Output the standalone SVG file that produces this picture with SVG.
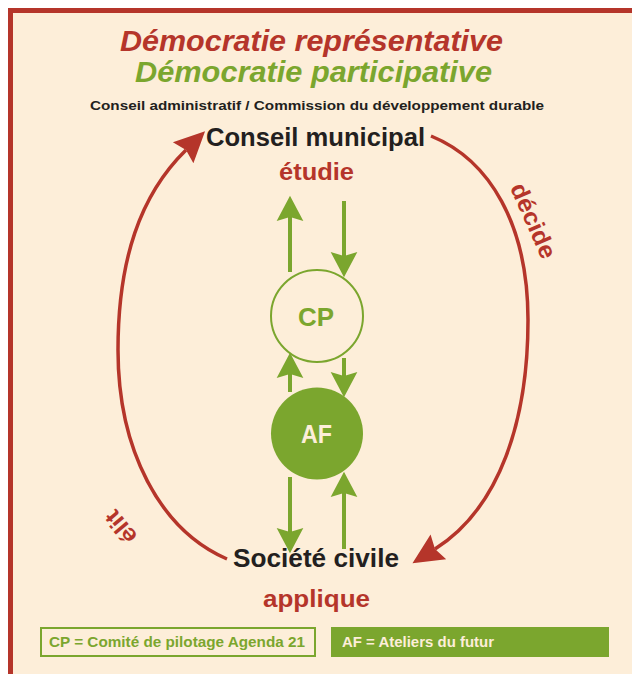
<svg xmlns="http://www.w3.org/2000/svg" width="632" height="674" viewBox="0 0 632 674">
<style>
text{font-family:"Liberation Sans",Arial,Helvetica,sans-serif;font-weight:bold;}
.red{fill:#b5352a;}
.green{fill:#7ba62e;}
.dark{fill:#231f20;}
.cream{fill:#fdeed9;}
.arc{fill:none;stroke:#b5352a;stroke-width:3.5;marker-end:url(#redhead);}
.garrow{fill:none;stroke:#7ba62e;stroke-width:4;marker-end:url(#greenhead);}
</style>
<defs>
<marker id="redhead" markerUnits="userSpaceOnUse" markerWidth="40" markerHeight="40" viewBox="-5 -15 30 30" refX="0" refY="0" orient="auto" overflow="visible">
<path d="M20,0 L-3,-11 L0,0 L-3,11 Z" fill="#b5352a"/>
</marker>
<marker id="greenhead" markerUnits="userSpaceOnUse" markerWidth="40" markerHeight="40" viewBox="-5 -15 30 30" refX="0" refY="0" orient="auto" overflow="visible">
<path d="M16,0 L-3,-10 L0,0 L-3,10 Z" fill="#7ba62e"/>
</marker>
</defs>
<rect x="0" y="0" width="632" height="674" fill="#ffffff"/>
<rect x="8" y="8" width="640" height="680" fill="#b5352a"/>
<rect x="13" y="13" width="640" height="680" fill="#fdeed9"/>

<g id="title">
<text class="red" x="311.5" y="51" font-size="29" font-style="italic" text-anchor="middle" textLength="383" lengthAdjust="spacingAndGlyphs">Démocratie représentative</text>
<text class="green" x="313.5" y="82" font-size="29" font-style="italic" text-anchor="middle" textLength="357" lengthAdjust="spacingAndGlyphs">Démocratie participative</text>
<text class="dark" x="317" y="110" font-size="13.5" text-anchor="middle" textLength="454" lengthAdjust="spacingAndGlyphs">Conseil administratif / Commission du développement durable</text>
</g>

<g id="conseil-municipal">
<text class="dark" x="315.5" y="146" font-size="25" text-anchor="middle" textLength="219" lengthAdjust="spacingAndGlyphs">Conseil municipal</text>
<text class="red" x="316.5" y="180" font-size="23" text-anchor="middle" textLength="75" lengthAdjust="spacingAndGlyphs">étudie</text>
</g>

<g id="societe-civile">
<text class="dark" x="316" y="567" font-size="25" text-anchor="middle" textLength="166" lengthAdjust="spacingAndGlyphs">Société civile</text>
<text class="red" x="316.5" y="607" font-size="24" text-anchor="middle" textLength="107" lengthAdjust="spacingAndGlyphs">applique</text>
</g>

<g id="cp">
<circle cx="317" cy="316" r="46" fill="none" stroke="#7ba62e" stroke-width="2"/>
<text class="green" x="316" y="326" font-size="26" text-anchor="middle" textLength="36" lengthAdjust="spacingAndGlyphs">CP</text>
</g>

<g id="af">
<circle cx="317" cy="433.5" r="46" fill="#7ba62e"/>
<text class="cream" x="316.5" y="443" font-size="25" text-anchor="middle" textLength="31" lengthAdjust="spacingAndGlyphs">AF</text>
</g>

<g id="connectors">
<path class="arc" d="M431,136 C490,160 528,225 528,320 C528,420 500,508 435,549"/>
<path class="arc" d="M227,559 C160,530 118,450 118,350 C118,260 140,195 186,150"/>
<line class="garrow" x1="290" y1="272" x2="290" y2="217"/>
<line class="garrow" x1="344" y1="201" x2="344" y2="256"/>
<line class="garrow" x1="290" y1="392" x2="290" y2="374"/>
<line class="garrow" x1="344" y1="358" x2="344" y2="376"/>
<line class="garrow" x1="290" y1="477" x2="290" y2="532"/>
<line class="garrow" x1="344" y1="549" x2="344" y2="493"/>
<text class="red" font-size="24" text-anchor="middle" transform="translate(526,224) rotate(66)" textLength="80" lengthAdjust="spacingAndGlyphs">décide</text>
<text class="red" font-size="23" text-anchor="middle" transform="translate(127,522) rotate(-130)" textLength="36" lengthAdjust="spacingAndGlyphs">élit</text>
</g>

<g id="legend-cp">
<rect x="41" y="628" width="274" height="28" fill="none" stroke="#7ba62e" stroke-width="2"/>
<text class="green" x="49" y="647" font-size="15" textLength="256" lengthAdjust="spacingAndGlyphs">CP = Comité de pilotage Agenda 21</text>
</g>
<g id="legend-af">
<rect x="331" y="627" width="278" height="30" fill="#7ba62e"/>
<text class="cream" x="342" y="647" font-size="15" textLength="152" lengthAdjust="spacingAndGlyphs">AF = Ateliers du futur</text>
</g>
</svg>
